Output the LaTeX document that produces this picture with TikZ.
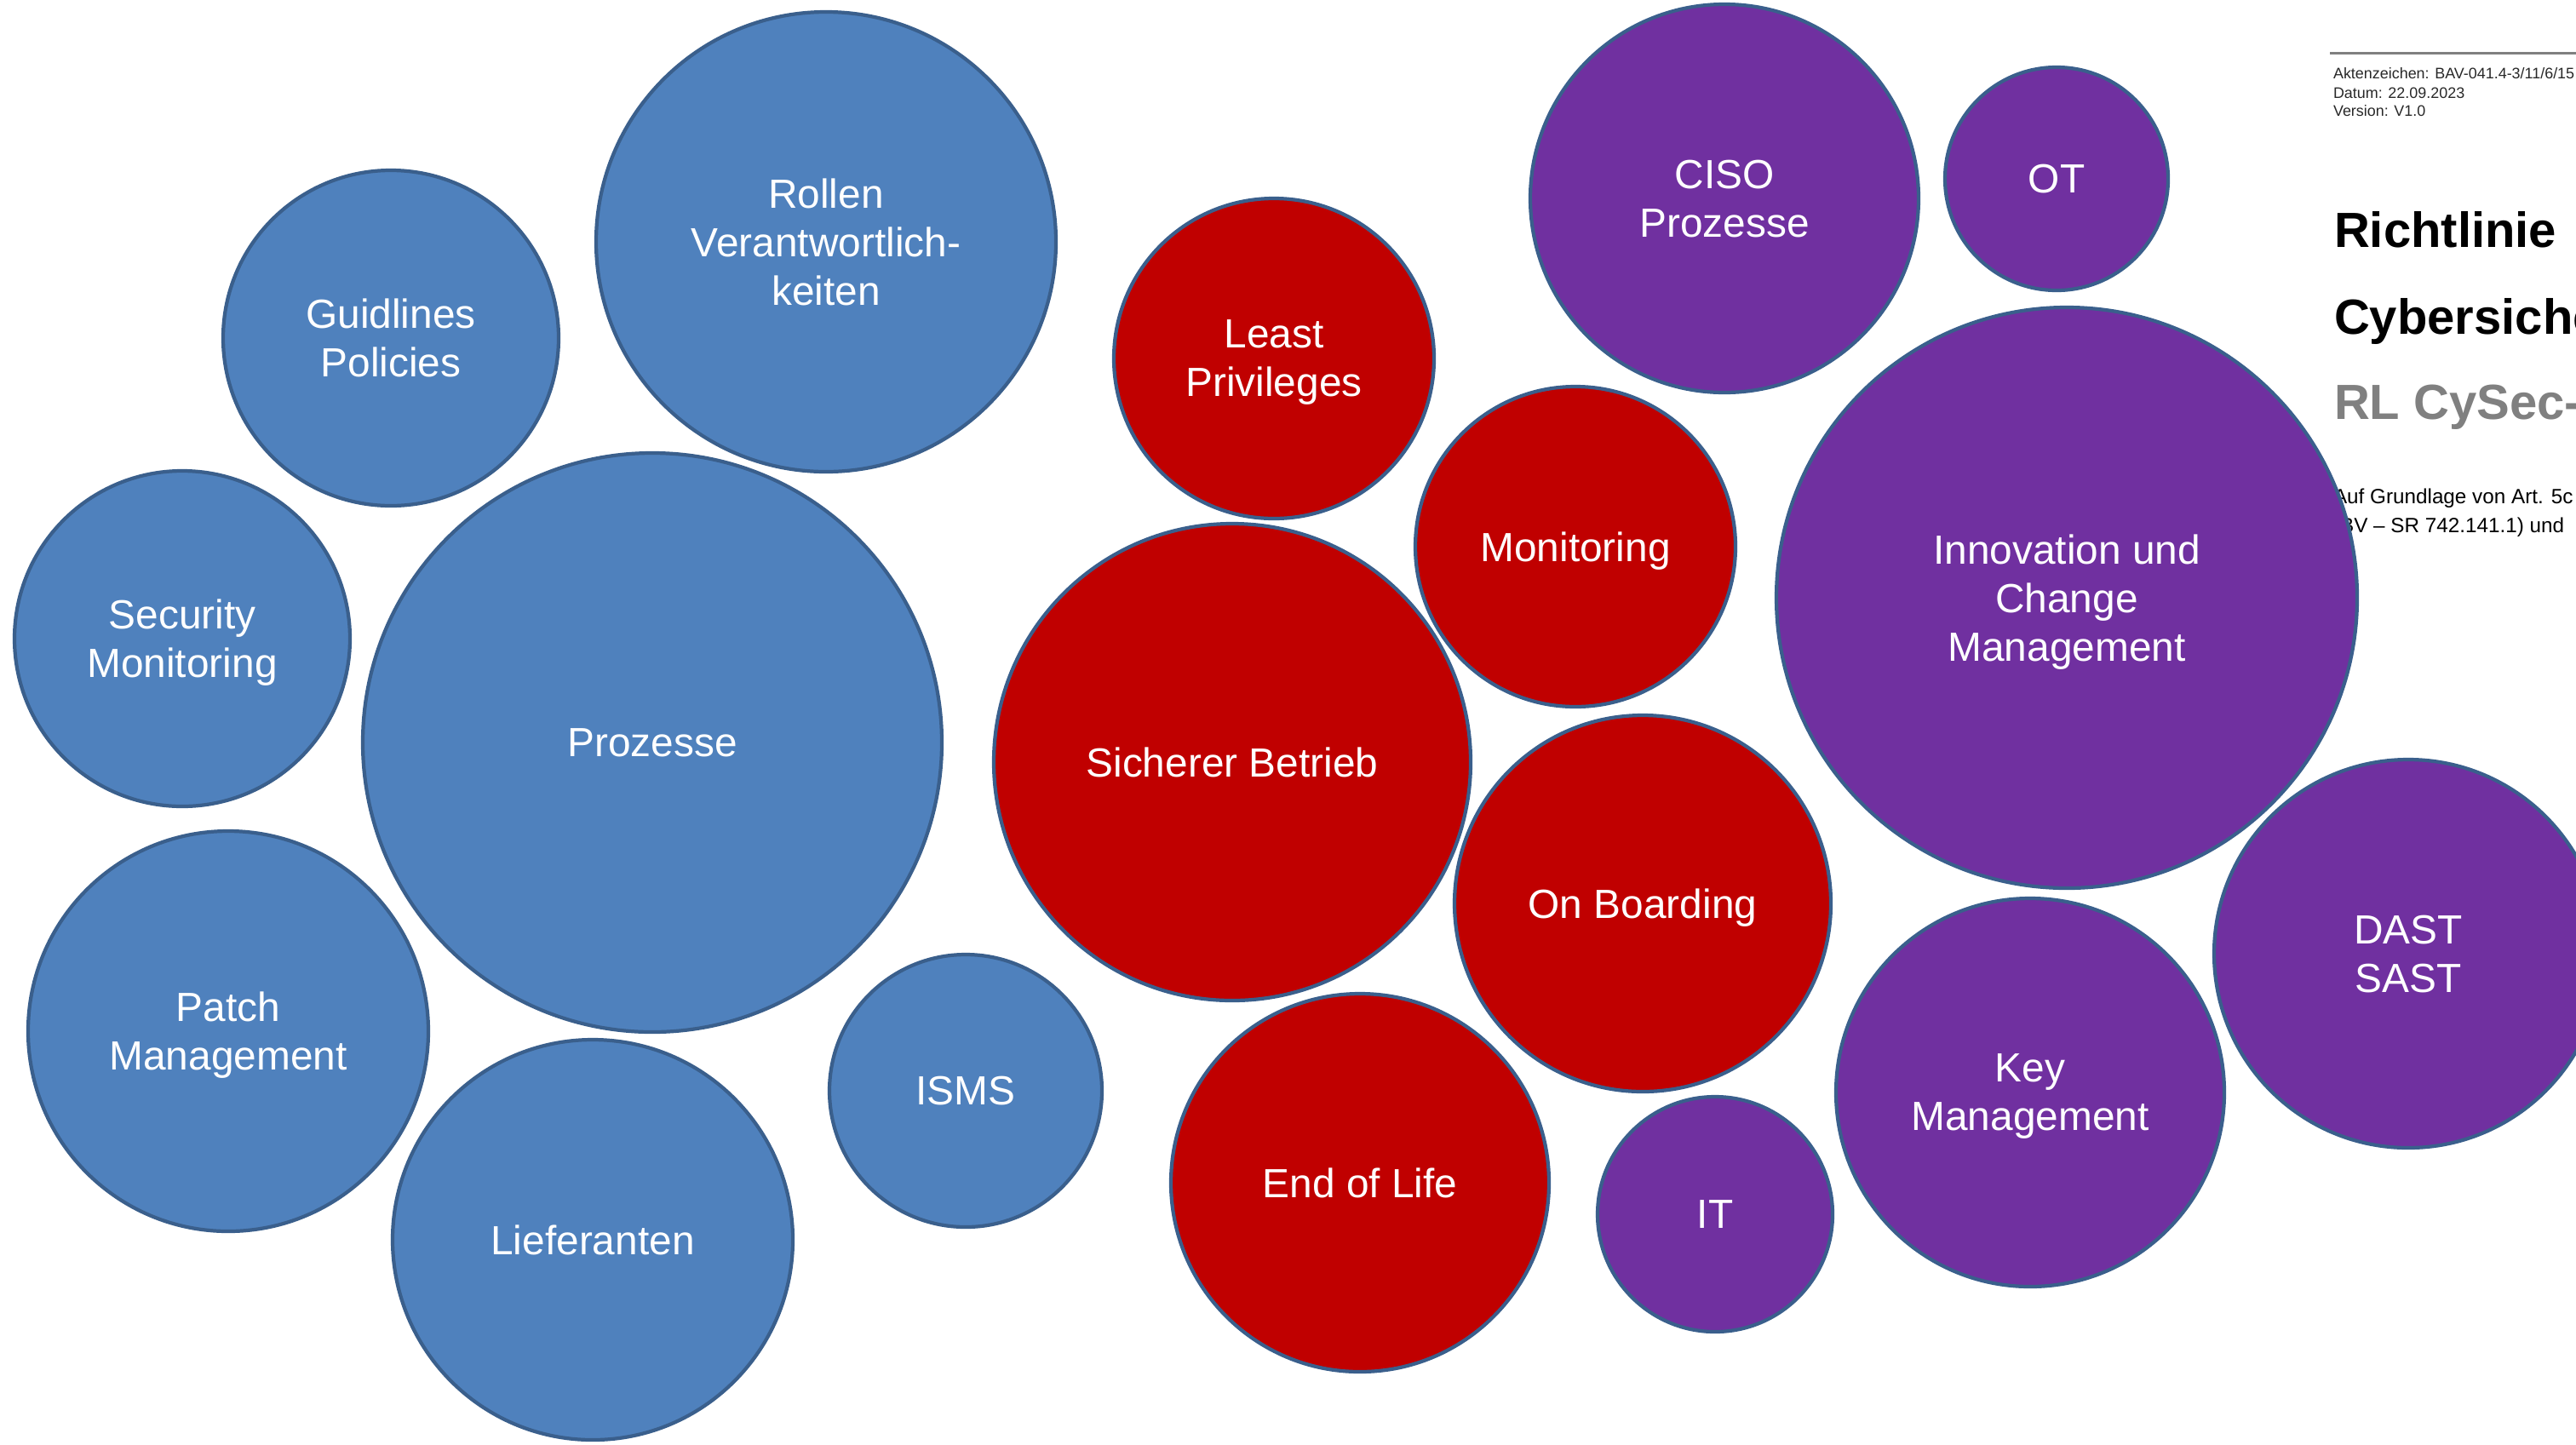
\documentclass[tikz,border=0pt]{standalone}
\usepackage{fontspec}
\setmainfont{Liberation Sans}

\newlength{\du}
\setlength{\du}{0.01cm}

\definecolor{blaufill}{RGB}{79,129,189}
\definecolor{rotfill}{RGB}{192,0,0}
\definecolor{lilafill}{RGB}{112,48,160}
\definecolor{kreisrand}{RGB}{58,95,140}
\definecolor{regel}{RGB}{128,128,128}
\definecolor{grautitel}{RGB}{128,128,128}
\definecolor{kopfgrau}{RGB}{40,40,40}

\newcommand{\blasenfont}{\fontsize{13.6}{16.2}\selectfont}
\newcommand{\kopffont}{\fontsize{5.1}{6}\selectfont}
\newcommand{\titelfont}{\fontsize{16.5}{19}\selectfont\bfseries}
\newcommand{\grundfont}{\fontsize{6.9}{8.5}\selectfont}

\begin{document}
\begin{tikzpicture}[yscale=-1,
  blase/.style={circle,draw=kreisrand,line width=1.2pt,inner sep=0pt,
    text=white,align=center,font=\blasenfont,text depth=-2pt,minimum size=#1\du},
  blau/.style={blase=#1,fill=blaufill},
  rot/.style={blase=#1,fill=rotfill},
  lila/.style={blase=#1,fill=lilafill},
  doctext/.style={anchor=base west,inner sep=0pt,outer sep=0pt}]
\useasboundingbox (0\du,0\du) rectangle (3025\du,1696\du);
\clip (0\du,0\du) rectangle (3025\du,1696\du);

% Titelblatt der Richtlinie, rechts angeschnitten
\draw[line width=3\du,color=regel] (2736\du,62\du) -- (3025\du,62\du);
\node[doctext,font=\kopffont,color=kopfgrau] (akz) at (2740\du,92\du) {Aktenzeichen: BAV-041.4-3/11/6/15};
\node[doctext,font=\kopffont,color=kopfgrau] (datum) at (2740\du,115\du) {Datum: 22.09.2023};
\node[doctext,font=\kopffont,color=kopfgrau] (version) at (2740\du,136\du) {Version: V1.0};
\node[doctext,font=\titelfont] (titel1) at (2741\du,290\du) {Richtlinie};
\node[doctext,font=\titelfont] (titel2) at (2741\du,392\du) {Cybersiche};
\node[doctext,font=\titelfont,color=grautitel] (kurz) at (2741\du,492\du) {RL CySec-};
\node[doctext,font=\grundfont] (grund1) at (2740\du,591\du) {Auf Grundlage von Art. 5c};
\node[doctext,font=\grundfont] (grund2) at (2740\du,625\du) {(BV -- SR 742.141.1) und};

% Governance (blau)
\node[blau=540] (rollen) at (970\du,284\du) {Rollen\\Verantwortlich-\\keiten};
\node[blau=394] (guidelines) at (459\du,397\du) {Guidlines\\Policies};
\node[blau=394] (secmon) at (214\du,750\du) {Security\\Monitoring};
\node[blau=680] (prozesse) at (766\du,872\du) {Prozesse};
\node[blau=470] (patch) at (268\du,1211\du) {Patch\\Management};
\node[blau=470] (lieferanten) at (696\du,1456\du) {Lieferanten};
\node[blau=320] (isms) at (1134\du,1281\du) {ISMS};

% Betrieb (rot)
\node[rot=376] (least) at (1496\du,421\du) {Least\\Privileges};
\node[rot=376] (monitoring) at (1850\du,642\du) {Monitoring};
\node[rot=560] (betrieb) at (1447\du,895\du) {Sicherer Betrieb};
\node[rot=442] (onboarding) at (1929\du,1061\du) {On Boarding};
\node[rot=444] (eol) at (1597\du,1389\du) {End of Life};

% Technik (lila)
\node[lila=276] (it) at (2014\du,1426\du) {IT};
\node[lila=456] (ciso) at (2025\du,233\du) {CISO\\Prozesse};
\node[lila=262] (ot) at (2415\du,210\du) {OT};
\node[lila=682] (innovation) at (2427\du,702\du) {Innovation und\\Change\\Management};
\node[lila=456] (keymgmt) at (2384\du,1283\du) {Key\\Management};
\node[lila=456] (dast) at (2828\du,1120\du) {DAST\\SAST};
\end{tikzpicture}
\end{document}
